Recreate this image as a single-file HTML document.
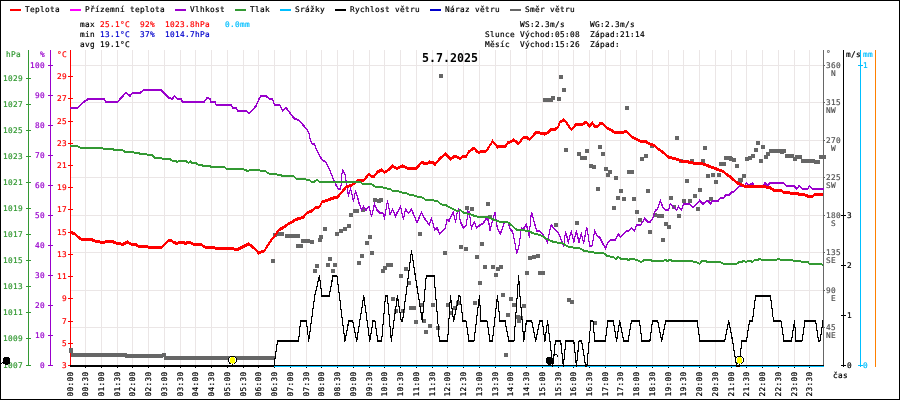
<!DOCTYPE html>
<html><head><meta charset="utf-8"><title>5.7.2025</title>
<style>
html,body{margin:0;padding:0;background:#fff;width:900px;height:400px;overflow:hidden}
svg{display:block}
text{font-family:'DejaVu Sans Mono','Liberation Mono',monospace;font-size:7.75px;letter-spacing:0.334px;stroke-width:0.2px}
</style></head><body>
<svg width="900" height="400" viewBox="0 0 900 400">
<rect x="0" y="0" width="900" height="400" fill="#fff"/>
<rect x="0" y="0" width="900" height="1" fill="#000"/>
<rect x="0" y="399" width="900" height="1" fill="#000"/>
<rect x="0" y="0" width="1" height="400" fill="#000"/>
<rect x="899" y="0" width="1" height="400" fill="#000"/>
<g shape-rendering="crispEdges">
<rect x="85" y="50" width="1" height="315" fill="#ebe6e6"/>
<rect x="101" y="50" width="1" height="315" fill="#ebe6e6"/>
<rect x="117" y="50" width="1" height="315" fill="#ebe6e6"/>
<rect x="132" y="50" width="1" height="315" fill="#ebe6e6"/>
<rect x="148" y="50" width="1" height="315" fill="#ebe6e6"/>
<rect x="164" y="50" width="1" height="315" fill="#ebe6e6"/>
<rect x="180" y="50" width="1" height="315" fill="#ebe6e6"/>
<rect x="195" y="50" width="1" height="315" fill="#ebe6e6"/>
<rect x="211" y="50" width="1" height="315" fill="#ebe6e6"/>
<rect x="227" y="50" width="1" height="315" fill="#ebe6e6"/>
<rect x="243" y="50" width="1" height="315" fill="#ebe6e6"/>
<rect x="258" y="50" width="1" height="315" fill="#ebe6e6"/>
<rect x="274" y="50" width="1" height="315" fill="#ebe6e6"/>
<rect x="290" y="50" width="1" height="315" fill="#ebe6e6"/>
<rect x="306" y="50" width="1" height="315" fill="#ebe6e6"/>
<rect x="321" y="50" width="1" height="315" fill="#ebe6e6"/>
<rect x="337" y="50" width="1" height="315" fill="#ebe6e6"/>
<rect x="353" y="50" width="1" height="315" fill="#ebe6e6"/>
<rect x="369" y="50" width="1" height="315" fill="#ebe6e6"/>
<rect x="384" y="50" width="1" height="315" fill="#ebe6e6"/>
<rect x="400" y="50" width="1" height="315" fill="#ebe6e6"/>
<rect x="416" y="50" width="1" height="315" fill="#ebe6e6"/>
<rect x="432" y="50" width="1" height="315" fill="#ebe6e6"/>
<rect x="447" y="50" width="1" height="315" fill="#ebe6e6"/>
<rect x="463" y="50" width="1" height="315" fill="#ebe6e6"/>
<rect x="479" y="50" width="1" height="315" fill="#ebe6e6"/>
<rect x="495" y="50" width="1" height="315" fill="#ebe6e6"/>
<rect x="510" y="50" width="1" height="315" fill="#ebe6e6"/>
<rect x="526" y="50" width="1" height="315" fill="#ebe6e6"/>
<rect x="542" y="50" width="1" height="315" fill="#ebe6e6"/>
<rect x="558" y="50" width="1" height="315" fill="#ebe6e6"/>
<rect x="573" y="50" width="1" height="315" fill="#ebe6e6"/>
<rect x="589" y="50" width="1" height="315" fill="#ebe6e6"/>
<rect x="605" y="50" width="1" height="315" fill="#ebe6e6"/>
<rect x="620" y="50" width="1" height="315" fill="#ebe6e6"/>
<rect x="636" y="50" width="1" height="315" fill="#ebe6e6"/>
<rect x="652" y="50" width="1" height="315" fill="#ebe6e6"/>
<rect x="668" y="50" width="1" height="315" fill="#ebe6e6"/>
<rect x="683" y="50" width="1" height="315" fill="#ebe6e6"/>
<rect x="699" y="50" width="1" height="315" fill="#ebe6e6"/>
<rect x="715" y="50" width="1" height="315" fill="#ebe6e6"/>
<rect x="731" y="50" width="1" height="315" fill="#ebe6e6"/>
<rect x="746" y="50" width="1" height="315" fill="#ebe6e6"/>
<rect x="762" y="50" width="1" height="315" fill="#ebe6e6"/>
<rect x="778" y="50" width="1" height="315" fill="#ebe6e6"/>
<rect x="794" y="50" width="1" height="315" fill="#ebe6e6"/>
<rect x="809" y="50" width="1" height="315" fill="#ebe6e6"/>
<rect x="71" y="65" width="752" height="1" fill="#ebe6e6"/>
<rect x="71" y="102" width="752" height="1" fill="#ebe6e6"/>
<rect x="71" y="140" width="752" height="1" fill="#ebe6e6"/>
<rect x="71" y="177" width="752" height="1" fill="#ebe6e6"/>
<rect x="71" y="215" width="752" height="1" fill="#ebe6e6"/>
<rect x="71" y="252" width="752" height="1" fill="#ebe6e6"/>
<rect x="71" y="290" width="752" height="1" fill="#ebe6e6"/>
<rect x="71" y="327" width="752" height="1" fill="#ebe6e6"/>
<rect x="71" y="365" width="752" height="1" fill="#ebe6e6"/>
</g>
<text x="422" y="62" fill="#000" font-weight="bold" style="font-size:11.63px;letter-spacing:0;stroke-width:0">5.7.2025</text>
<g shape-rendering="crispEdges">
<rect x="28" y="50" width="1" height="316" fill="#339933"/>
<rect x="50" y="50" width="1" height="316" fill="#9900cc"/>
<rect x="70" y="50" width="1" height="316" fill="#ff0000"/>
<rect x="823" y="50" width="1" height="316" fill="#666666"/>
<rect x="843" y="50" width="1" height="317" fill="#000"/>
<rect x="860" y="50" width="1" height="317" fill="#00bfff"/>
<rect x="875" y="50" width="1" height="317" fill="#ff8000"/>
</g>
<g shape-rendering="crispEdges">
<rect x="26" y="365" width="5" height="1" fill="#339933"/>
<rect x="26" y="338" width="5" height="1" fill="#339933"/>
<rect x="26" y="312" width="5" height="1" fill="#339933"/>
<rect x="26" y="286" width="5" height="1" fill="#339933"/>
<rect x="26" y="260" width="5" height="1" fill="#339933"/>
<rect x="26" y="234" width="5" height="1" fill="#339933"/>
<rect x="26" y="208" width="5" height="1" fill="#339933"/>
<rect x="26" y="182" width="5" height="1" fill="#339933"/>
<rect x="26" y="156" width="5" height="1" fill="#339933"/>
<rect x="26" y="130" width="5" height="1" fill="#339933"/>
<rect x="26" y="104" width="5" height="1" fill="#339933"/>
<rect x="26" y="78" width="5" height="1" fill="#339933"/>
<rect x="48" y="365" width="5" height="1" fill="#9900cc"/>
<rect x="48" y="335" width="5" height="1" fill="#9900cc"/>
<rect x="48" y="305" width="5" height="1" fill="#9900cc"/>
<rect x="48" y="275" width="5" height="1" fill="#9900cc"/>
<rect x="48" y="245" width="5" height="1" fill="#9900cc"/>
<rect x="48" y="215" width="5" height="1" fill="#9900cc"/>
<rect x="48" y="185" width="5" height="1" fill="#9900cc"/>
<rect x="48" y="155" width="5" height="1" fill="#9900cc"/>
<rect x="48" y="125" width="5" height="1" fill="#9900cc"/>
<rect x="48" y="95" width="5" height="1" fill="#9900cc"/>
<rect x="48" y="65" width="5" height="1" fill="#9900cc"/>
<rect x="68" y="365" width="5" height="1" fill="#ff0000"/>
<rect x="68" y="343" width="5" height="1" fill="#ff0000"/>
<rect x="68" y="321" width="5" height="1" fill="#ff0000"/>
<rect x="68" y="298" width="5" height="1" fill="#ff0000"/>
<rect x="68" y="276" width="5" height="1" fill="#ff0000"/>
<rect x="68" y="254" width="5" height="1" fill="#ff0000"/>
<rect x="68" y="232" width="5" height="1" fill="#ff0000"/>
<rect x="68" y="209" width="5" height="1" fill="#ff0000"/>
<rect x="68" y="187" width="5" height="1" fill="#ff0000"/>
<rect x="68" y="165" width="5" height="1" fill="#ff0000"/>
<rect x="68" y="143" width="5" height="1" fill="#ff0000"/>
<rect x="68" y="121" width="5" height="1" fill="#ff0000"/>
<rect x="68" y="98" width="5" height="1" fill="#ff0000"/>
<rect x="68" y="76" width="5" height="1" fill="#ff0000"/>
<rect x="841" y="365" width="5" height="1" fill="#000"/>
<rect x="841" y="315" width="5" height="1" fill="#000"/>
<rect x="841" y="265" width="5" height="1" fill="#000"/>
<rect x="841" y="215" width="5" height="1" fill="#000"/>
<rect x="858" y="365" width="5" height="1" fill="#00bfff"/>
<rect x="858" y="65" width="5" height="1" fill="#00bfff"/>
<rect x="824" y="65" width="1" height="1" fill="#666666"/>
<rect x="824" y="102" width="1" height="1" fill="#666666"/>
<rect x="824" y="140" width="1" height="1" fill="#666666"/>
<rect x="824" y="177" width="1" height="1" fill="#666666"/>
<rect x="824" y="215" width="1" height="1" fill="#666666"/>
<rect x="824" y="252" width="1" height="1" fill="#666666"/>
<rect x="824" y="290" width="1" height="1" fill="#666666"/>
<rect x="824" y="327" width="1" height="1" fill="#666666"/>
</g>
<g style="font-family:'DejaVu Sans Mono','Liberation Mono',monospace;font-size:7.75px">
<text x="23" y="368" fill="#339933" stroke="#339933" text-anchor="end">1007</text>
<text x="23" y="341" fill="#339933" stroke="#339933" text-anchor="end">1009</text>
<text x="23" y="315" fill="#339933" stroke="#339933" text-anchor="end">1011</text>
<text x="23" y="289" fill="#339933" stroke="#339933" text-anchor="end">1013</text>
<text x="23" y="263" fill="#339933" stroke="#339933" text-anchor="end">1015</text>
<text x="23" y="237" fill="#339933" stroke="#339933" text-anchor="end">1017</text>
<text x="23" y="211" fill="#339933" stroke="#339933" text-anchor="end">1019</text>
<text x="23" y="185" fill="#339933" stroke="#339933" text-anchor="end">1021</text>
<text x="23" y="159" fill="#339933" stroke="#339933" text-anchor="end">1023</text>
<text x="23" y="133" fill="#339933" stroke="#339933" text-anchor="end">1025</text>
<text x="23" y="107" fill="#339933" stroke="#339933" text-anchor="end">1027</text>
<text x="23" y="81" fill="#339933" stroke="#339933" text-anchor="end">1029</text>
<text x="45" y="368" fill="#9900cc" stroke="#9900cc" text-anchor="end">0</text>
<text x="45" y="338" fill="#9900cc" stroke="#9900cc" text-anchor="end">10</text>
<text x="45" y="308" fill="#9900cc" stroke="#9900cc" text-anchor="end">20</text>
<text x="45" y="278" fill="#9900cc" stroke="#9900cc" text-anchor="end">30</text>
<text x="45" y="248" fill="#9900cc" stroke="#9900cc" text-anchor="end">40</text>
<text x="45" y="218" fill="#9900cc" stroke="#9900cc" text-anchor="end">50</text>
<text x="45" y="188" fill="#9900cc" stroke="#9900cc" text-anchor="end">60</text>
<text x="45" y="158" fill="#9900cc" stroke="#9900cc" text-anchor="end">70</text>
<text x="45" y="128" fill="#9900cc" stroke="#9900cc" text-anchor="end">80</text>
<text x="45" y="98" fill="#9900cc" stroke="#9900cc" text-anchor="end">90</text>
<text x="45" y="68" fill="#9900cc" stroke="#9900cc" text-anchor="end">100</text>
<text x="67" y="368" fill="#ff0000" stroke="#ff0000" text-anchor="end">3</text>
<text x="67" y="346" fill="#ff0000" stroke="#ff0000" text-anchor="end">5</text>
<text x="67" y="324" fill="#ff0000" stroke="#ff0000" text-anchor="end">7</text>
<text x="67" y="301" fill="#ff0000" stroke="#ff0000" text-anchor="end">9</text>
<text x="67" y="279" fill="#ff0000" stroke="#ff0000" text-anchor="end">11</text>
<text x="67" y="257" fill="#ff0000" stroke="#ff0000" text-anchor="end">13</text>
<text x="67" y="235" fill="#ff0000" stroke="#ff0000" text-anchor="end">15</text>
<text x="67" y="212" fill="#ff0000" stroke="#ff0000" text-anchor="end">17</text>
<text x="67" y="190" fill="#ff0000" stroke="#ff0000" text-anchor="end">19</text>
<text x="67" y="168" fill="#ff0000" stroke="#ff0000" text-anchor="end">21</text>
<text x="67" y="146" fill="#ff0000" stroke="#ff0000" text-anchor="end">23</text>
<text x="67" y="124" fill="#ff0000" stroke="#ff0000" text-anchor="end">25</text>
<text x="67" y="101" fill="#ff0000" stroke="#ff0000" text-anchor="end">27</text>
<text x="67" y="79" fill="#ff0000" stroke="#ff0000" text-anchor="end">29</text>
<text x="21" y="57" fill="#339933" stroke="#339933" text-anchor="end">hPa</text>
<text x="45" y="57" fill="#9900cc" stroke="#9900cc" text-anchor="end">%</text>
<text x="67" y="57" fill="#ff0000" stroke="#ff0000" text-anchor="end">°C</text>
<text x="826" y="68" fill="#555" stroke="#555">360</text>
<text x="836" y="76" fill="#555" stroke="#555" text-anchor="end">N</text>
<text x="826" y="105" fill="#555" stroke="#555">315</text>
<text x="836" y="113" fill="#555" stroke="#555" text-anchor="end">NW</text>
<text x="826" y="143" fill="#555" stroke="#555">270</text>
<text x="836" y="151" fill="#555" stroke="#555" text-anchor="end">W</text>
<text x="826" y="180" fill="#555" stroke="#555">225</text>
<text x="836" y="188" fill="#555" stroke="#555" text-anchor="end">SW</text>
<text x="826" y="218" fill="#555" stroke="#555">180</text>
<text x="836" y="226" fill="#555" stroke="#555" text-anchor="end">S</text>
<text x="826" y="255" fill="#555" stroke="#555">135</text>
<text x="836" y="263" fill="#555" stroke="#555" text-anchor="end">SE</text>
<text x="826" y="293" fill="#555" stroke="#555">90</text>
<text x="836" y="301" fill="#555" stroke="#555" text-anchor="end">E</text>
<text x="826" y="330" fill="#555" stroke="#555">45</text>
<text x="836" y="338" fill="#555" stroke="#555" text-anchor="end">NE</text>
<text x="826" y="56" fill="#555" stroke="#555">°</text>
<text x="847" y="368" fill="#000" stroke="#000">0</text>
<text x="847" y="318" fill="#000" stroke="#000">1</text>
<text x="847" y="268" fill="#000" stroke="#000">2</text>
<text x="847" y="218" fill="#000" stroke="#000">3</text>
<text x="863" y="368" fill="#00bfff" stroke="#00bfff">0</text>
<text x="863" y="68" fill="#00bfff" stroke="#00bfff">1</text>
<text x="846" y="57" fill="#000" stroke="#000">m/s</text>
<text x="863" y="57" fill="#00bfff" stroke="#00bfff">mm</text>
<text x="833" y="378" fill="#000" stroke="#000">čas</text>
<rect x="10" y="9" width="11" height="2" fill="#ff0000"/>
<text x="25" y="12" fill="#000" stroke="#000">Teplota</text>
<rect x="70" y="9" width="11" height="2" fill="#ff00ff"/>
<text x="85" y="12" fill="#000" stroke="#000">Přízemní teplota</text>
<rect x="175" y="9" width="11" height="2" fill="#9900cc"/>
<text x="190" y="12" fill="#000" stroke="#000">Vlhkost</text>
<rect x="235" y="9" width="11" height="2" fill="#339933"/>
<text x="250" y="12" fill="#000" stroke="#000">Tlak</text>
<rect x="280" y="9" width="11" height="2" fill="#00bfff"/>
<text x="295" y="12" fill="#000" stroke="#000">Srážky</text>
<rect x="335" y="9" width="11" height="2" fill="#000"/>
<text x="350" y="12" fill="#000" stroke="#000">Rychlost větru</text>
<rect x="430" y="9" width="11" height="2" fill="#0000cc"/>
<text x="445" y="12" fill="#000" stroke="#000">Náraz větru</text>
<rect x="510" y="9" width="11" height="2" fill="#666"/>
<text x="525" y="12" fill="#000" stroke="#000">Směr větru</text>
<text x="80" y="27" xml:space="preserve"><tspan fill="#000" stroke="#000">max </tspan><tspan fill="#ff0000" stroke="#ff0000">25.1°C  92%  1023.8hPa   </tspan><tspan fill="#00bfff" stroke="#00bfff">0.0mm</tspan></text>
<text x="80" y="37" xml:space="preserve"><tspan fill="#000" stroke="#000">min </tspan><tspan fill="#0000cc" stroke="#0000cc">13.1°C  37%  1014.7hPa</tspan></text>
<text x="80" y="47" stroke="#000" xml:space="preserve">avg 19.1°C</text>
<text x="520" y="27" stroke="#000" xml:space="preserve">WS:2.3m/s     WG:2.3m/s</text>
<text x="485" y="37" stroke="#000" xml:space="preserve">Slunce Východ:05:08  Západ:21:14</text>
<text x="485" y="47" stroke="#000" xml:space="preserve">Měsíc  Východ:15:26  Západ:</text>
<text stroke="#000" transform="translate(73,396.5) rotate(-90)">00:00</text>
<text stroke="#000" transform="translate(88,396.5) rotate(-90)">00:30</text>
<text stroke="#000" transform="translate(104,396.5) rotate(-90)">01:00</text>
<text stroke="#000" transform="translate(120,396.5) rotate(-90)">01:30</text>
<text stroke="#000" transform="translate(135,396.5) rotate(-90)">02:00</text>
<text stroke="#000" transform="translate(151,396.5) rotate(-90)">02:30</text>
<text stroke="#000" transform="translate(167,396.5) rotate(-90)">03:00</text>
<text stroke="#000" transform="translate(183,396.5) rotate(-90)">03:30</text>
<text stroke="#000" transform="translate(198,396.5) rotate(-90)">04:00</text>
<text stroke="#000" transform="translate(214,396.5) rotate(-90)">04:30</text>
<text stroke="#000" transform="translate(230,396.5) rotate(-90)">05:00</text>
<text stroke="#000" transform="translate(246,396.5) rotate(-90)">05:30</text>
<text stroke="#000" transform="translate(261,396.5) rotate(-90)">06:00</text>
<text stroke="#000" transform="translate(277,396.5) rotate(-90)">06:30</text>
<text stroke="#000" transform="translate(293,396.5) rotate(-90)">07:00</text>
<text stroke="#000" transform="translate(309,396.5) rotate(-90)">07:30</text>
<text stroke="#000" transform="translate(324,396.5) rotate(-90)">08:00</text>
<text stroke="#000" transform="translate(340,396.5) rotate(-90)">08:30</text>
<text stroke="#000" transform="translate(356,396.5) rotate(-90)">09:00</text>
<text stroke="#000" transform="translate(372,396.5) rotate(-90)">09:30</text>
<text stroke="#000" transform="translate(387,396.5) rotate(-90)">10:00</text>
<text stroke="#000" transform="translate(403,396.5) rotate(-90)">10:30</text>
<text stroke="#000" transform="translate(419,396.5) rotate(-90)">11:00</text>
<text stroke="#000" transform="translate(435,396.5) rotate(-90)">11:30</text>
<text stroke="#000" transform="translate(450,396.5) rotate(-90)">12:00</text>
<text stroke="#000" transform="translate(466,396.5) rotate(-90)">12:30</text>
<text stroke="#000" transform="translate(482,396.5) rotate(-90)">13:00</text>
<text stroke="#000" transform="translate(498,396.5) rotate(-90)">13:30</text>
<text stroke="#000" transform="translate(513,396.5) rotate(-90)">14:00</text>
<text stroke="#000" transform="translate(529,396.5) rotate(-90)">14:30</text>
<text stroke="#000" transform="translate(545,396.5) rotate(-90)">15:00</text>
<text stroke="#000" transform="translate(561,396.5) rotate(-90)">15:30</text>
<text stroke="#000" transform="translate(576,396.5) rotate(-90)">16:00</text>
<text stroke="#000" transform="translate(592,396.5) rotate(-90)">16:30</text>
<text stroke="#000" transform="translate(608,396.5) rotate(-90)">17:00</text>
<text stroke="#000" transform="translate(623,396.5) rotate(-90)">17:30</text>
<text stroke="#000" transform="translate(639,396.5) rotate(-90)">18:00</text>
<text stroke="#000" transform="translate(655,396.5) rotate(-90)">18:30</text>
<text stroke="#000" transform="translate(671,396.5) rotate(-90)">19:00</text>
<text stroke="#000" transform="translate(686,396.5) rotate(-90)">19:30</text>
<text stroke="#000" transform="translate(702,396.5) rotate(-90)">20:00</text>
<text stroke="#000" transform="translate(718,396.5) rotate(-90)">20:30</text>
<text stroke="#000" transform="translate(734,396.5) rotate(-90)">21:00</text>
<text stroke="#000" transform="translate(749,396.5) rotate(-90)">21:30</text>
<text stroke="#000" transform="translate(765,396.5) rotate(-90)">22:00</text>
<text stroke="#000" transform="translate(781,396.5) rotate(-90)">22:30</text>
<text stroke="#000" transform="translate(797,396.5) rotate(-90)">23:00</text>
<text stroke="#000" transform="translate(812,396.5) rotate(-90)">23:30</text>
</g>
<g shape-rendering="crispEdges">
<rect x="85" y="367" width="1" height="1" fill="#000"/>
<rect x="101" y="367" width="1" height="1" fill="#000"/>
<rect x="117" y="367" width="1" height="1" fill="#000"/>
<rect x="132" y="367" width="1" height="1" fill="#000"/>
<rect x="148" y="367" width="1" height="1" fill="#000"/>
<rect x="164" y="367" width="1" height="1" fill="#000"/>
<rect x="180" y="367" width="1" height="1" fill="#000"/>
<rect x="195" y="367" width="1" height="1" fill="#000"/>
<rect x="211" y="367" width="1" height="1" fill="#000"/>
<rect x="227" y="367" width="1" height="1" fill="#000"/>
<rect x="243" y="367" width="1" height="1" fill="#000"/>
<rect x="258" y="367" width="1" height="1" fill="#000"/>
<rect x="274" y="367" width="1" height="1" fill="#000"/>
<rect x="290" y="367" width="1" height="1" fill="#000"/>
<rect x="306" y="367" width="1" height="1" fill="#000"/>
<rect x="321" y="367" width="1" height="1" fill="#000"/>
<rect x="337" y="367" width="1" height="1" fill="#000"/>
<rect x="353" y="367" width="1" height="1" fill="#000"/>
<rect x="369" y="367" width="1" height="1" fill="#000"/>
<rect x="384" y="367" width="1" height="1" fill="#000"/>
<rect x="400" y="367" width="1" height="1" fill="#000"/>
<rect x="416" y="367" width="1" height="1" fill="#000"/>
<rect x="432" y="367" width="1" height="1" fill="#000"/>
<rect x="447" y="367" width="1" height="1" fill="#000"/>
<rect x="463" y="367" width="1" height="1" fill="#000"/>
<rect x="479" y="367" width="1" height="1" fill="#000"/>
<rect x="495" y="367" width="1" height="1" fill="#000"/>
<rect x="510" y="367" width="1" height="1" fill="#000"/>
<rect x="526" y="367" width="1" height="1" fill="#000"/>
<rect x="542" y="367" width="1" height="1" fill="#000"/>
<rect x="558" y="367" width="1" height="1" fill="#000"/>
<rect x="573" y="367" width="1" height="1" fill="#000"/>
<rect x="589" y="367" width="1" height="1" fill="#000"/>
<rect x="605" y="367" width="1" height="1" fill="#000"/>
<rect x="620" y="367" width="1" height="1" fill="#000"/>
<rect x="636" y="367" width="1" height="1" fill="#000"/>
<rect x="652" y="367" width="1" height="1" fill="#000"/>
<rect x="668" y="367" width="1" height="1" fill="#000"/>
<rect x="683" y="367" width="1" height="1" fill="#000"/>
<rect x="699" y="367" width="1" height="1" fill="#000"/>
<rect x="715" y="367" width="1" height="1" fill="#000"/>
<rect x="731" y="367" width="1" height="1" fill="#000"/>
<rect x="746" y="367" width="1" height="1" fill="#000"/>
<rect x="762" y="367" width="1" height="1" fill="#000"/>
<rect x="778" y="367" width="1" height="1" fill="#000"/>
<rect x="794" y="367" width="1" height="1" fill="#000"/>
<rect x="809" y="367" width="1" height="1" fill="#000"/>
<rect x="70" y="365" width="754" height="1" fill="#000"/>
<rect x="70" y="366" width="754" height="1" fill="#00bfff"/>
</g>
<g shape-rendering="crispEdges">
<rect x="69" y="348" width="4" height="4" fill="#666666"/>
<rect x="69" y="349" width="4" height="4" fill="#666666"/>
<rect x="71" y="353" width="4" height="4" fill="#666666"/>
<rect x="73" y="353" width="4" height="4" fill="#666666"/>
<rect x="76" y="353" width="4" height="4" fill="#666666"/>
<rect x="79" y="353" width="4" height="4" fill="#666666"/>
<rect x="81" y="353" width="4" height="4" fill="#666666"/>
<rect x="84" y="353" width="4" height="4" fill="#666666"/>
<rect x="86" y="353" width="4" height="4" fill="#666666"/>
<rect x="89" y="353" width="4" height="4" fill="#666666"/>
<rect x="92" y="353" width="4" height="4" fill="#666666"/>
<rect x="94" y="353" width="4" height="4" fill="#666666"/>
<rect x="97" y="353" width="4" height="4" fill="#666666"/>
<rect x="99" y="353" width="4" height="4" fill="#666666"/>
<rect x="102" y="353" width="4" height="4" fill="#666666"/>
<rect x="105" y="353" width="4" height="4" fill="#666666"/>
<rect x="107" y="353" width="4" height="4" fill="#666666"/>
<rect x="110" y="353" width="4" height="4" fill="#666666"/>
<rect x="112" y="353" width="4" height="4" fill="#666666"/>
<rect x="115" y="353" width="4" height="4" fill="#666666"/>
<rect x="118" y="353" width="4" height="4" fill="#666666"/>
<rect x="120" y="353" width="4" height="4" fill="#666666"/>
<rect x="123" y="353" width="4" height="4" fill="#666666"/>
<rect x="125" y="354" width="4" height="4" fill="#666666"/>
<rect x="128" y="354" width="4" height="4" fill="#666666"/>
<rect x="131" y="354" width="4" height="4" fill="#666666"/>
<rect x="133" y="354" width="4" height="4" fill="#666666"/>
<rect x="136" y="354" width="4" height="4" fill="#666666"/>
<rect x="138" y="354" width="4" height="4" fill="#666666"/>
<rect x="141" y="354" width="4" height="4" fill="#666666"/>
<rect x="144" y="354" width="4" height="4" fill="#666666"/>
<rect x="146" y="354" width="4" height="4" fill="#666666"/>
<rect x="149" y="354" width="4" height="4" fill="#666666"/>
<rect x="151" y="354" width="4" height="4" fill="#666666"/>
<rect x="154" y="354" width="4" height="4" fill="#666666"/>
<rect x="157" y="354" width="4" height="4" fill="#666666"/>
<rect x="159" y="354" width="4" height="4" fill="#666666"/>
<rect x="162" y="353" width="4" height="4" fill="#666666"/>
<rect x="164" y="356" width="4" height="4" fill="#666666"/>
<rect x="167" y="356" width="4" height="4" fill="#666666"/>
<rect x="170" y="356" width="4" height="4" fill="#666666"/>
<rect x="172" y="356" width="4" height="4" fill="#666666"/>
<rect x="175" y="356" width="4" height="4" fill="#666666"/>
<rect x="177" y="356" width="4" height="4" fill="#666666"/>
<rect x="180" y="356" width="4" height="4" fill="#666666"/>
<rect x="183" y="356" width="4" height="4" fill="#666666"/>
<rect x="185" y="356" width="4" height="4" fill="#666666"/>
<rect x="188" y="356" width="4" height="4" fill="#666666"/>
<rect x="190" y="356" width="4" height="4" fill="#666666"/>
<rect x="193" y="356" width="4" height="4" fill="#666666"/>
<rect x="196" y="356" width="4" height="4" fill="#666666"/>
<rect x="198" y="356" width="4" height="4" fill="#666666"/>
<rect x="201" y="356" width="4" height="4" fill="#666666"/>
<rect x="203" y="356" width="4" height="4" fill="#666666"/>
<rect x="206" y="356" width="4" height="4" fill="#666666"/>
<rect x="209" y="356" width="4" height="4" fill="#666666"/>
<rect x="211" y="356" width="4" height="4" fill="#666666"/>
<rect x="214" y="356" width="4" height="4" fill="#666666"/>
<rect x="216" y="356" width="4" height="4" fill="#666666"/>
<rect x="219" y="356" width="4" height="4" fill="#666666"/>
<rect x="222" y="356" width="4" height="4" fill="#666666"/>
<rect x="224" y="356" width="4" height="4" fill="#666666"/>
<rect x="227" y="356" width="4" height="4" fill="#666666"/>
<rect x="229" y="356" width="4" height="4" fill="#666666"/>
<rect x="232" y="356" width="4" height="4" fill="#666666"/>
<rect x="235" y="356" width="4" height="4" fill="#666666"/>
<rect x="237" y="356" width="4" height="4" fill="#666666"/>
<rect x="240" y="356" width="4" height="4" fill="#666666"/>
<rect x="242" y="356" width="4" height="4" fill="#666666"/>
<rect x="245" y="356" width="4" height="4" fill="#666666"/>
<rect x="248" y="356" width="4" height="4" fill="#666666"/>
<rect x="250" y="356" width="4" height="4" fill="#666666"/>
<rect x="253" y="356" width="4" height="4" fill="#666666"/>
<rect x="255" y="356" width="4" height="4" fill="#666666"/>
<rect x="258" y="356" width="4" height="4" fill="#666666"/>
<rect x="261" y="356" width="4" height="4" fill="#666666"/>
<rect x="263" y="356" width="4" height="4" fill="#666666"/>
<rect x="266" y="356" width="4" height="4" fill="#666666"/>
<rect x="268" y="356" width="4" height="4" fill="#666666"/>
<rect x="271" y="356" width="4" height="4" fill="#666666"/>
<rect x="273" y="233" width="4" height="4" fill="#666666"/>
<rect x="277" y="232" width="4" height="4" fill="#666666"/>
<rect x="280" y="232" width="4" height="4" fill="#666666"/>
<rect x="285" y="234" width="4" height="4" fill="#666666"/>
<rect x="289" y="234" width="4" height="4" fill="#666666"/>
<rect x="293" y="234" width="4" height="4" fill="#666666"/>
<rect x="296" y="234" width="4" height="4" fill="#666666"/>
<rect x="271" y="259" width="4" height="4" fill="#666666"/>
<rect x="296" y="244" width="4" height="4" fill="#666666"/>
<rect x="301" y="239" width="4" height="4" fill="#666666"/>
<rect x="306" y="239" width="4" height="4" fill="#666666"/>
<rect x="310" y="240" width="4" height="4" fill="#666666"/>
<rect x="318" y="238" width="4" height="4" fill="#666666"/>
<rect x="319" y="235" width="4" height="4" fill="#666666"/>
<rect x="323" y="227" width="4" height="4" fill="#666666"/>
<rect x="328" y="257" width="4" height="4" fill="#666666"/>
<rect x="335" y="232" width="4" height="4" fill="#666666"/>
<rect x="339" y="229" width="4" height="4" fill="#666666"/>
<rect x="343" y="227" width="4" height="4" fill="#666666"/>
<rect x="347" y="224" width="4" height="4" fill="#666666"/>
<rect x="349" y="213" width="4" height="4" fill="#666666"/>
<rect x="353" y="209" width="4" height="4" fill="#666666"/>
<rect x="355" y="209" width="4" height="4" fill="#666666"/>
<rect x="357" y="261" width="4" height="4" fill="#666666"/>
<rect x="360" y="254" width="4" height="4" fill="#666666"/>
<rect x="365" y="241" width="4" height="4" fill="#666666"/>
<rect x="368" y="235" width="4" height="4" fill="#666666"/>
<rect x="361" y="208" width="4" height="4" fill="#666666"/>
<rect x="370" y="251" width="4" height="4" fill="#666666"/>
<rect x="373" y="198" width="4" height="4" fill="#666666"/>
<rect x="377" y="199" width="4" height="4" fill="#666666"/>
<rect x="379" y="198" width="4" height="4" fill="#666666"/>
<rect x="388" y="263" width="4" height="4" fill="#666666"/>
<rect x="418" y="232" width="4" height="4" fill="#666666"/>
<rect x="443" y="251" width="4" height="4" fill="#666666"/>
<rect x="459" y="245" width="4" height="4" fill="#666666"/>
<rect x="464" y="247" width="4" height="4" fill="#666666"/>
<rect x="465" y="206" width="4" height="4" fill="#666666"/>
<rect x="470" y="207" width="4" height="4" fill="#666666"/>
<rect x="475" y="255" width="4" height="4" fill="#666666"/>
<rect x="480" y="242" width="4" height="4" fill="#666666"/>
<rect x="486" y="202" width="4" height="4" fill="#666666"/>
<rect x="488" y="215" width="4" height="4" fill="#666666"/>
<rect x="439" y="74" width="4" height="4" fill="#666666"/>
<rect x="313" y="269" width="4" height="4" fill="#666666"/>
<rect x="315" y="264" width="4" height="4" fill="#666666"/>
<rect x="326" y="263" width="4" height="4" fill="#666666"/>
<rect x="331" y="269" width="4" height="4" fill="#666666"/>
<rect x="333" y="263" width="4" height="4" fill="#666666"/>
<rect x="381" y="269" width="4" height="4" fill="#666666"/>
<rect x="383" y="266" width="4" height="4" fill="#666666"/>
<rect x="386" y="263" width="4" height="4" fill="#666666"/>
<rect x="389" y="263" width="4" height="4" fill="#666666"/>
<rect x="399" y="274" width="4" height="4" fill="#666666"/>
<rect x="404" y="267" width="4" height="4" fill="#666666"/>
<rect x="407" y="281" width="4" height="4" fill="#666666"/>
<rect x="391" y="297" width="4" height="4" fill="#666666"/>
<rect x="394" y="309" width="4" height="4" fill="#666666"/>
<rect x="401" y="309" width="4" height="4" fill="#666666"/>
<rect x="409" y="306" width="4" height="4" fill="#666666"/>
<rect x="412" y="306" width="4" height="4" fill="#666666"/>
<rect x="419" y="303" width="4" height="4" fill="#666666"/>
<rect x="414" y="320" width="4" height="4" fill="#666666"/>
<rect x="422" y="319" width="4" height="4" fill="#666666"/>
<rect x="424" y="330" width="4" height="4" fill="#666666"/>
<rect x="428" y="324" width="4" height="4" fill="#666666"/>
<rect x="431" y="303" width="4" height="4" fill="#666666"/>
<rect x="436" y="326" width="4" height="4" fill="#666666"/>
<rect x="446" y="303" width="4" height="4" fill="#666666"/>
<rect x="449" y="311" width="4" height="4" fill="#666666"/>
<rect x="453" y="306" width="4" height="4" fill="#666666"/>
<rect x="456" y="301" width="4" height="4" fill="#666666"/>
<rect x="473" y="301" width="4" height="4" fill="#666666"/>
<rect x="478" y="281" width="4" height="4" fill="#666666"/>
<rect x="483" y="265" width="4" height="4" fill="#666666"/>
<rect x="491" y="265" width="4" height="4" fill="#666666"/>
<rect x="496" y="267" width="4" height="4" fill="#666666"/>
<rect x="499" y="265" width="4" height="4" fill="#666666"/>
<rect x="494" y="273" width="4" height="4" fill="#666666"/>
<rect x="501" y="293" width="4" height="4" fill="#666666"/>
<rect x="509" y="297" width="4" height="4" fill="#666666"/>
<rect x="512" y="303" width="4" height="4" fill="#666666"/>
<rect x="506" y="313" width="4" height="4" fill="#666666"/>
<rect x="516" y="315" width="4" height="4" fill="#666666"/>
<rect x="517" y="319" width="4" height="4" fill="#666666"/>
<rect x="504" y="353" width="4" height="4" fill="#666666"/>
<rect x="559" y="75" width="4" height="4" fill="#666666"/>
<rect x="562" y="88" width="4" height="4" fill="#666666"/>
<rect x="543" y="98" width="4" height="4" fill="#666666"/>
<rect x="546" y="98" width="4" height="4" fill="#666666"/>
<rect x="549" y="98" width="4" height="4" fill="#666666"/>
<rect x="551" y="96" width="4" height="4" fill="#666666"/>
<rect x="557" y="97" width="4" height="4" fill="#666666"/>
<rect x="625" y="106" width="4" height="4" fill="#666666"/>
<rect x="675" y="136" width="4" height="4" fill="#666666"/>
<rect x="564" y="148" width="4" height="4" fill="#666666"/>
<rect x="577" y="152" width="4" height="4" fill="#666666"/>
<rect x="585" y="149" width="4" height="4" fill="#666666"/>
<rect x="580" y="156" width="4" height="4" fill="#666666"/>
<rect x="583" y="156" width="4" height="4" fill="#666666"/>
<rect x="598" y="145" width="4" height="4" fill="#666666"/>
<rect x="601" y="152" width="4" height="4" fill="#666666"/>
<rect x="589" y="164" width="4" height="4" fill="#666666"/>
<rect x="592" y="165" width="4" height="4" fill="#666666"/>
<rect x="644" y="154" width="4" height="4" fill="#666666"/>
<rect x="640" y="157" width="4" height="4" fill="#666666"/>
<rect x="650" y="144" width="4" height="4" fill="#666666"/>
<rect x="703" y="146" width="4" height="4" fill="#666666"/>
<rect x="679" y="159" width="4" height="4" fill="#666666"/>
<rect x="690" y="159" width="4" height="4" fill="#666666"/>
<rect x="701" y="159" width="4" height="4" fill="#666666"/>
<rect x="724" y="156" width="4" height="4" fill="#666666"/>
<rect x="728" y="156" width="4" height="4" fill="#666666"/>
<rect x="732" y="158" width="4" height="4" fill="#666666"/>
<rect x="604" y="167" width="4" height="4" fill="#666666"/>
<rect x="608" y="170" width="4" height="4" fill="#666666"/>
<rect x="606" y="173" width="4" height="4" fill="#666666"/>
<rect x="614" y="176" width="4" height="4" fill="#666666"/>
<rect x="627" y="170" width="4" height="4" fill="#666666"/>
<rect x="630" y="170" width="4" height="4" fill="#666666"/>
<rect x="596" y="187" width="4" height="4" fill="#666666"/>
<rect x="619" y="189" width="4" height="4" fill="#666666"/>
<rect x="616" y="196" width="4" height="4" fill="#666666"/>
<rect x="622" y="197" width="4" height="4" fill="#666666"/>
<rect x="632" y="197" width="4" height="4" fill="#666666"/>
<rect x="612" y="206" width="4" height="4" fill="#666666"/>
<rect x="635" y="210" width="4" height="4" fill="#666666"/>
<rect x="646" y="189" width="4" height="4" fill="#666666"/>
<rect x="669" y="196" width="4" height="4" fill="#666666"/>
<rect x="672" y="205" width="4" height="4" fill="#666666"/>
<rect x="682" y="199" width="4" height="4" fill="#666666"/>
<rect x="688" y="199" width="4" height="4" fill="#666666"/>
<rect x="693" y="194" width="4" height="4" fill="#666666"/>
<rect x="698" y="188" width="4" height="4" fill="#666666"/>
<rect x="696" y="207" width="4" height="4" fill="#666666"/>
<rect x="685" y="179" width="4" height="4" fill="#666666"/>
<rect x="706" y="174" width="4" height="4" fill="#666666"/>
<rect x="711" y="173" width="4" height="4" fill="#666666"/>
<rect x="717" y="173" width="4" height="4" fill="#666666"/>
<rect x="714" y="180" width="4" height="4" fill="#666666"/>
<rect x="709" y="197" width="4" height="4" fill="#666666"/>
<rect x="735" y="164" width="4" height="4" fill="#666666"/>
<rect x="738" y="178" width="4" height="4" fill="#666666"/>
<rect x="742" y="174" width="4" height="4" fill="#666666"/>
<rect x="653" y="213" width="4" height="4" fill="#666666"/>
<rect x="657" y="214" width="4" height="4" fill="#666666"/>
<rect x="660" y="214" width="4" height="4" fill="#666666"/>
<rect x="677" y="214" width="4" height="4" fill="#666666"/>
<rect x="638" y="218" width="4" height="4" fill="#666666"/>
<rect x="664" y="222" width="4" height="4" fill="#666666"/>
<rect x="667" y="225" width="4" height="4" fill="#666666"/>
<rect x="648" y="230" width="4" height="4" fill="#666666"/>
<rect x="661" y="238" width="4" height="4" fill="#666666"/>
<rect x="554" y="223" width="4" height="4" fill="#666666"/>
<rect x="575" y="221" width="4" height="4" fill="#666666"/>
<rect x="528" y="256" width="4" height="4" fill="#666666"/>
<rect x="532" y="255" width="4" height="4" fill="#666666"/>
<rect x="536" y="254" width="4" height="4" fill="#666666"/>
<rect x="525" y="271" width="4" height="4" fill="#666666"/>
<rect x="538" y="271" width="4" height="4" fill="#666666"/>
<rect x="541" y="271" width="4" height="4" fill="#666666"/>
<rect x="522" y="304" width="4" height="4" fill="#666666"/>
<rect x="519" y="316" width="4" height="4" fill="#666666"/>
<rect x="567" y="298" width="4" height="4" fill="#666666"/>
<rect x="570" y="300" width="4" height="4" fill="#666666"/>
<rect x="593" y="321" width="4" height="4" fill="#666666"/>
<rect x="729" y="157" width="4" height="4" fill="#666666"/>
<rect x="732" y="158" width="4" height="4" fill="#666666"/>
<rect x="745" y="157" width="4" height="4" fill="#666666"/>
<rect x="748" y="156" width="4" height="4" fill="#666666"/>
<rect x="751" y="154" width="4" height="4" fill="#666666"/>
<rect x="754" y="148" width="4" height="4" fill="#666666"/>
<rect x="756" y="141" width="4" height="4" fill="#666666"/>
<rect x="761" y="145" width="4" height="4" fill="#666666"/>
<rect x="759" y="159" width="4" height="4" fill="#666666"/>
<rect x="764" y="155" width="4" height="4" fill="#666666"/>
<rect x="766" y="152" width="4" height="4" fill="#666666"/>
<rect x="739" y="178" width="4" height="4" fill="#666666"/>
<rect x="738" y="180" width="4" height="4" fill="#666666"/>
<rect x="304" y="239" width="4" height="4" fill="#666666"/>
<rect x="299" y="244" width="4" height="4" fill="#666666"/>
<rect x="719" y="162" width="4" height="4" fill="#666666"/>
<rect x="722" y="162" width="4" height="4" fill="#666666"/>
<rect x="769" y="149" width="4" height="4" fill="#666666"/>
<rect x="772" y="149" width="4" height="4" fill="#666666"/>
<rect x="775" y="149" width="4" height="4" fill="#666666"/>
<rect x="778" y="149" width="4" height="4" fill="#666666"/>
<rect x="780" y="150" width="4" height="4" fill="#666666"/>
<rect x="782" y="149" width="4" height="4" fill="#666666"/>
<rect x="785" y="154" width="4" height="4" fill="#666666"/>
<rect x="788" y="154" width="4" height="4" fill="#666666"/>
<rect x="790" y="154" width="4" height="4" fill="#666666"/>
<rect x="793" y="157" width="4" height="4" fill="#666666"/>
<rect x="795" y="155" width="4" height="4" fill="#666666"/>
<rect x="798" y="155" width="4" height="4" fill="#666666"/>
<rect x="801" y="159" width="4" height="4" fill="#666666"/>
<rect x="804" y="159" width="4" height="4" fill="#666666"/>
<rect x="807" y="159" width="4" height="4" fill="#666666"/>
<rect x="810" y="159" width="4" height="4" fill="#666666"/>
<rect x="811" y="159" width="4" height="4" fill="#666666"/>
<rect x="814" y="160" width="4" height="4" fill="#666666"/>
<rect x="816" y="160" width="4" height="4" fill="#666666"/>
<rect x="819" y="155" width="4" height="4" fill="#666666"/>
<rect x="822" y="155" width="4" height="4" fill="#666666"/>
<polyline points="70.00,107.50 77.50,107.50 83.75,101.50 88.75,98.25 103.75,98.25 106.00,101.50 117.50,101.50 126.00,92.00 130.00,95.50 132.50,92.50 140.00,92.50 143.75,89.50 161.00,89.50 169.00,97.50 172.50,98.25 174.50,95.50 177.50,98.25 181.00,98.50 182.50,101.50 204.00,101.50 207.00,97.50 210.00,98.25 211.00,101.50 215.00,101.50 216.00,104.00 231.00,104.00 232.50,107.00 236.00,107.50 237.50,110.25 246.00,110.25 249.00,113.25 256.00,105.50 259.00,98.50 261.00,95.50 266.00,95.50 270.00,98.50 272.50,98.50 274.50,104.00 280.00,104.75 282.60,110.00 286.10,107.40 288.80,110.90 294.90,118.80 298.40,119.10 301.90,123.10 307.10,129.30 308.90,132.80 310.60,140.70 312.40,143.30 314.10,143.30 316.80,149.40 320.30,156.40 322.50,159.50 325.70,161.60 328.90,167.50 332.10,175.50 335.30,183.00 338.00,188.30 340.10,188.30 341.20,184.00 341.70,174.40 342.80,170.20 344.90,173.40 346.90,184.50 347.50,190.50 348.50,194.50 350.50,188.50 351.50,192.00 353.50,200.50 355.50,191.00 357.50,196.50 359.00,202.50 361.50,209.50 363.50,206.00 366.00,209.50 369.00,206.00 371.50,216.00 374.50,203.50 377.00,209.50 379.50,212.00 382.50,212.00 384.50,217.50 387.50,200.00 390.00,213.50 392.50,209.00 395.50,215.50 400.50,206.00 403.50,219.00 405.50,209.00 408.50,212.50 411.50,209.00 417.00,222.00 421.50,212.00 425.00,218.50 429.20,224.30 431.50,218.30 432.60,221.50 434.70,229.50 437.20,227.30 439.50,233.50 443.80,229.50 445.40,227.80 447.00,218.80 449.10,220.40 450.70,216.70 453.40,211.90 455.50,221.50 457.10,212.40 458.70,208.70 460.30,221.00 463.50,227.50 466.50,224.20 467.80,210.80 469.40,211.90 470.50,221.50 471.50,227.50 474.20,221.20 476.60,227.50 480.00,224.50 483.00,223.00 486.50,217.80 488.60,220.40 489.90,230.00 491.80,223.00 495.00,211.90 496.60,222.60 497.40,228.00 500.30,233.50 504.50,222.00 507.75,221.00 509.80,227.90 512.60,231.30 514.60,240.30 516.70,253.30 518.80,246.50 520.10,237.50 521.20,227.20 522.90,229.30 525.00,225.80 526.30,223.80 528.10,230.60 529.50,236.80 530.40,218.30 531.80,212.10 533.20,217.60 536.60,230.60 539.10,229.90 542.80,234.10 546.30,238.90 547.60,242.30 549.30,232.00 551.10,224.40 554.50,228.60 558.60,232.70 562.80,243.00 563.90,245.80 565.50,230.60 568.30,241.60 571.30,230.60 573.80,241.60 576.30,230.60 579.00,241.60 581.30,233.40 583.70,242.50 586.70,226.70 588.20,235.00 589.70,245.50 592.00,245.50 594.70,230.50 597.20,235.70 599.50,236.50 602.50,242.50 605.50,247.70 607.70,242.50 610.70,239.20 615.20,239.20 618.70,233.50 620.50,236.50 626.50,230.50 628.70,230.50 631.70,227.50 634.30,230.50 636.70,224.50 640.70,224.50 644.50,218.20 648.20,221.80 650.50,221.20 653.50,216.20 655.30,209.70 657.50,208.60 660.30,200.10 662.80,206.50 665.50,209.50 668.70,209.50 670.30,203.10 671.90,204.90 676.70,209.70 678.60,206.30 681.50,209.70 683.60,203.30 689.50,203.30 692.10,206.30 693.70,206.30 699.60,200.10 702.80,203.50 707.60,200.10 710.80,203.50 712.40,200.30 718.30,200.30 720.40,197.40 723.60,197.40 725.70,194.50 728.90,194.50 732.10,191.60 734.30,191.00 739.60,185.20 744.90,185.30 746.50,182.40 749.20,185.30 752.40,182.40 754.00,185.30 763.10,185.30 765.20,182.40 767.30,185.30 770.50,182.10 783.30,182.10 786.50,185.30 794.00,185.30 796.70,188.50 799.30,185.30 802.50,188.50 807.90,188.50 809.50,185.30 812.70,188.50 823.90,188.50" fill="none" stroke="#9900cc" stroke-width="1"/>
<polyline points="70.00,108.50 77.50,108.50 83.75,102.50 88.75,99.25 103.75,99.25 106.00,102.50 117.50,102.50 126.00,93.00 130.00,96.50 132.50,93.50 140.00,93.50 143.75,90.50 161.00,90.50 169.00,98.50 172.50,99.25 174.50,96.50 177.50,99.25 181.00,99.50 182.50,102.50 204.00,102.50 207.00,98.50 210.00,99.25 211.00,102.50 215.00,102.50 216.00,105.00 231.00,105.00 232.50,108.00 236.00,108.50 237.50,111.25 246.00,111.25 249.00,114.25 256.00,106.50 259.00,99.50 261.00,96.50 266.00,96.50 270.00,99.50 272.50,99.50 274.50,105.00 280.00,105.75 282.60,111.00 286.10,108.40 288.80,111.90 294.90,119.80 298.40,120.10 301.90,124.10 307.10,130.30 308.90,133.80 310.60,141.70 312.40,144.30 314.10,144.30 316.80,150.40 320.30,157.40 322.50,160.50 325.70,162.60 328.90,168.50 332.10,176.50 335.30,184.00 338.00,189.30 340.10,189.30 341.20,185.00 341.70,175.40 342.80,171.20 344.90,174.40 346.90,185.50 347.50,191.50 348.50,195.50 350.50,189.50 351.50,193.00 353.50,201.50 355.50,192.00 357.50,197.50 359.00,203.50 361.50,210.50 363.50,207.00 366.00,210.50 369.00,207.00 371.50,217.00 374.50,204.50 377.00,210.50 379.50,213.00 382.50,213.00 384.50,218.50 387.50,201.00 390.00,214.50 392.50,210.00 395.50,216.50 400.50,207.00 403.50,220.00 405.50,210.00 408.50,213.50 411.50,210.00 417.00,223.00 421.50,213.00 425.00,219.50 429.20,225.30 431.50,219.30 432.60,222.50 434.70,230.50 437.20,228.30 439.50,234.50 443.80,230.50 445.40,228.80 447.00,219.80 449.10,221.40 450.70,217.70 453.40,212.90 455.50,222.50 457.10,213.40 458.70,209.70 460.30,222.00 463.50,228.50 466.50,225.20 467.80,211.80 469.40,212.90 470.50,222.50 471.50,228.50 474.20,222.20 476.60,228.50 480.00,225.50 483.00,224.00 486.50,218.80 488.60,221.40 489.90,231.00 491.80,224.00 495.00,212.90 496.60,223.60 497.40,229.00 500.30,234.50 504.50,223.00 507.75,222.00 509.80,228.90 512.60,232.30 514.60,241.30 516.70,254.30 518.80,247.50 520.10,238.50 521.20,228.20 522.90,230.30 525.00,226.80 526.30,224.80 528.10,231.60 529.50,237.80 530.40,219.30 531.80,213.10 533.20,218.60 536.60,231.60 539.10,230.90 542.80,235.10 546.30,239.90 547.60,243.30 549.30,233.00 551.10,225.40 554.50,229.60 558.60,233.70 562.80,244.00 563.90,246.80 565.50,231.60 568.30,242.60 571.30,231.60 573.80,242.60 576.30,231.60 579.00,242.60 581.30,234.40 583.70,243.50 586.70,227.70 588.20,236.00 589.70,246.50 592.00,246.50 594.70,231.50 597.20,236.70 599.50,237.50 602.50,243.50 605.50,248.70 607.70,243.50 610.70,240.20 615.20,240.20 618.70,234.50 620.50,237.50 626.50,231.50 628.70,231.50 631.70,228.50 634.30,231.50 636.70,225.50 640.70,225.50 644.50,219.20 648.20,222.80 650.50,222.20 653.50,217.20 655.30,210.70 657.50,209.60 660.30,201.10 662.80,207.50 665.50,210.50 668.70,210.50 670.30,204.10 671.90,205.90 676.70,210.70 678.60,207.30 681.50,210.70 683.60,204.30 689.50,204.30 692.10,207.30 693.70,207.30 699.60,201.10 702.80,204.50 707.60,201.10 710.80,204.50 712.40,201.30 718.30,201.30 720.40,198.40 723.60,198.40 725.70,195.50 728.90,195.50 732.10,192.60 734.30,192.00 739.60,186.20 744.90,186.30 746.50,183.40 749.20,186.30 752.40,183.40 754.00,186.30 763.10,186.30 765.20,183.40 767.30,186.30 770.50,183.10 783.30,183.10 786.50,186.30 794.00,186.30 796.70,189.50 799.30,186.30 802.50,189.50 807.90,189.50 809.50,186.30 812.70,189.50 823.90,189.50" fill="none" stroke="#9900cc" stroke-width="1"/>
<polyline points="70.00,231.50 73.50,232.20 75.50,233.50 78.50,236.50 82.00,238.50 91.00,238.50 94.00,239.50 96.50,240.50 99.50,240.80 102.00,241.50 104.50,241.20 106.50,240.20 112.00,240.20 114.50,241.50 117.00,242.50 120.00,242.50 122.50,243.50 127.50,241.00 131.00,243.20 135.00,243.20 138.50,245.20 146.00,245.20 149.00,246.50 161.50,246.50 169.00,239.00 171.50,239.80 174.00,241.50 177.00,242.50 180.00,241.20 183.00,241.20 185.50,242.50 188.00,241.20 190.50,241.50 193.50,243.50 201.00,243.20 204.50,246.00 214.00,246.50 216.00,247.50 230.00,247.50 234.00,248.00 238.00,248.20 241.00,246.80 245.00,244.80 248.50,243.00 251.50,245.00 255.00,248.00 258.50,252.00 262.00,250.80 264.50,249.80 268.00,244.00 271.00,239.50 275.00,234.50 278.00,230.00 280.00,228.20 284.00,226.20 288.00,223.20 290.00,222.10 295.00,219.00 298.75,217.50 303.10,216.50 307.50,211.50 311.25,210.25 315.60,206.75 319.40,205.90 321.90,200.90 326.25,199.60 331.25,197.75 335.00,196.50 337.50,196.25 342.50,190.25 346.25,185.90 348.00,185.20 351.00,184.50 356.00,181.00 359.00,179.00 363.50,179.50 369.00,173.00 371.00,175.00 374.50,175.00 377.50,171.00 381.50,169.00 384.50,171.50 389.00,168.50 392.50,165.00 397.00,167.50 400.00,166.00 402.50,165.00 406.00,166.50 408.00,167.50 416.00,167.50 419.00,164.50 420.00,163.00 422.00,161.20 424.50,162.50 427.50,162.50 429.50,161.00 432.50,161.20 435.00,163.50 439.00,158.50 442.00,155.80 445.50,153.00 450.50,158.00 455.00,155.00 460.00,157.50 463.50,155.20 466.00,155.50 469.00,150.50 474.00,147.00 477.00,150.50 479.50,151.50 481.50,150.20 486.00,150.20 489.00,146.00 492.50,140.20 497.50,146.00 500.00,145.20 505.50,145.20 508.00,141.50 511.00,140.80 513.50,139.00 516.00,140.50 518.50,142.80 523.50,136.20 526.50,136.20 529.50,138.50 536.00,131.50 538.00,131.80 542.00,132.20 544.50,133.00 547.00,132.20 551.50,128.20 555.50,128.20 558.00,125.80 560.00,121.20 563.50,119.00 566.00,120.80 569.00,125.50 571.50,128.50 576.50,123.00 580.00,123.00 583.00,123.00 586.00,121.00 589.50,125.20 592.50,122.00 594.50,125.20 598.00,125.20 600.00,122.50 602.50,122.50 607.00,127.00 610.00,128.50 614.50,131.20 624.00,131.20 626.00,130.20 632.00,136.00 636.00,138.20 640.00,140.00 645.00,140.20 650.00,143.00 654.00,144.20 655.00,145.00 658.00,148.00 661.00,149.80 665.00,153.00 669.00,156.50 673.00,157.20 679.00,159.00 682.00,160.50 687.00,160.50 690.00,161.50 694.00,162.20 700.00,162.20 705.00,163.50 709.00,165.20 714.00,167.00 719.00,169.00 723.00,170.20 726.00,173.20 730.00,175.50 734.30,179.50 738.00,182.30 743.90,184.80 744.90,185.90 765.20,185.90 769.50,186.40 773.70,189.10 781.20,189.40 783.90,191.50 789.70,192.00 791.90,192.60 797.20,192.60 799.30,193.30 805.70,194.10 808.40,195.50 812.10,195.50 815.30,193.00 823.00,193.00" fill="none" stroke="#ff0000" stroke-width="1"/>
<polyline points="70.00,232.50 73.50,233.20 75.50,234.50 78.50,237.50 82.00,239.50 91.00,239.50 94.00,240.50 96.50,241.50 99.50,241.80 102.00,242.50 104.50,242.20 106.50,241.20 112.00,241.20 114.50,242.50 117.00,243.50 120.00,243.50 122.50,244.50 127.50,242.00 131.00,244.20 135.00,244.20 138.50,246.20 146.00,246.20 149.00,247.50 161.50,247.50 169.00,240.00 171.50,240.80 174.00,242.50 177.00,243.50 180.00,242.20 183.00,242.20 185.50,243.50 188.00,242.20 190.50,242.50 193.50,244.50 201.00,244.20 204.50,247.00 214.00,247.50 216.00,248.50 230.00,248.50 234.00,249.00 238.00,249.20 241.00,247.80 245.00,245.80 248.50,244.00 251.50,246.00 255.00,249.00 258.50,253.00 262.00,251.80 264.50,250.80 268.00,245.00 271.00,240.50 275.00,235.50 278.00,231.00 280.00,229.20 284.00,227.20 288.00,224.20 290.00,223.10 295.00,220.00 298.75,218.50 303.10,217.50 307.50,212.50 311.25,211.25 315.60,207.75 319.40,206.90 321.90,201.90 326.25,200.60 331.25,198.75 335.00,197.50 337.50,197.25 342.50,191.25 346.25,186.90 348.00,186.20 351.00,185.50 356.00,182.00 359.00,180.00 363.50,180.50 369.00,174.00 371.00,176.00 374.50,176.00 377.50,172.00 381.50,170.00 384.50,172.50 389.00,169.50 392.50,166.00 397.00,168.50 400.00,167.00 402.50,166.00 406.00,167.50 408.00,168.50 416.00,168.50 419.00,165.50 420.00,164.00 422.00,162.20 424.50,163.50 427.50,163.50 429.50,162.00 432.50,162.20 435.00,164.50 439.00,159.50 442.00,156.80 445.50,154.00 450.50,159.00 455.00,156.00 460.00,158.50 463.50,156.20 466.00,156.50 469.00,151.50 474.00,148.00 477.00,151.50 479.50,152.50 481.50,151.20 486.00,151.20 489.00,147.00 492.50,141.20 497.50,147.00 500.00,146.20 505.50,146.20 508.00,142.50 511.00,141.80 513.50,140.00 516.00,141.50 518.50,143.80 523.50,137.20 526.50,137.20 529.50,139.50 536.00,132.50 538.00,132.80 542.00,133.20 544.50,134.00 547.00,133.20 551.50,129.20 555.50,129.20 558.00,126.80 560.00,122.20 563.50,120.00 566.00,121.80 569.00,126.50 571.50,129.50 576.50,124.00 580.00,124.00 583.00,124.00 586.00,122.00 589.50,126.20 592.50,123.00 594.50,126.20 598.00,126.20 600.00,123.50 602.50,123.50 607.00,128.00 610.00,129.50 614.50,132.20 624.00,132.20 626.00,131.20 632.00,137.00 636.00,139.20 640.00,141.00 645.00,141.20 650.00,144.00 654.00,145.20 655.00,146.00 658.00,149.00 661.00,150.80 665.00,154.00 669.00,157.50 673.00,158.20 679.00,160.00 682.00,161.50 687.00,161.50 690.00,162.50 694.00,163.20 700.00,163.20 705.00,164.50 709.00,166.20 714.00,168.00 719.00,170.00 723.00,171.20 726.00,174.20 730.00,176.50 734.30,180.50 738.00,183.30 743.90,185.80 744.90,186.90 765.20,186.90 769.50,187.40 773.70,190.10 781.20,190.40 783.90,192.50 789.70,193.00 791.90,193.60 797.20,193.60 799.30,194.30 805.70,195.10 808.40,196.50 812.10,196.50 815.30,194.00 823.00,194.00" fill="none" stroke="#ff0000" stroke-width="1"/>
<polyline points="70.00,233.50 73.50,234.20 75.50,235.50 78.50,238.50 82.00,240.50 91.00,240.50 94.00,241.50 96.50,242.50 99.50,242.80 102.00,243.50 104.50,243.20 106.50,242.20 112.00,242.20 114.50,243.50 117.00,244.50 120.00,244.50 122.50,245.50 127.50,243.00 131.00,245.20 135.00,245.20 138.50,247.20 146.00,247.20 149.00,248.50 161.50,248.50 169.00,241.00 171.50,241.80 174.00,243.50 177.00,244.50 180.00,243.20 183.00,243.20 185.50,244.50 188.00,243.20 190.50,243.50 193.50,245.50 201.00,245.20 204.50,248.00 214.00,248.50 216.00,249.50 230.00,249.50 234.00,250.00 238.00,250.20 241.00,248.80 245.00,246.80 248.50,245.00 251.50,247.00 255.00,250.00 258.50,254.00 262.00,252.80 264.50,251.80 268.00,246.00 271.00,241.50 275.00,236.50 278.00,232.00 280.00,230.20 284.00,228.20 288.00,225.20 290.00,224.10 295.00,221.00 298.75,219.50 303.10,218.50 307.50,213.50 311.25,212.25 315.60,208.75 319.40,207.90 321.90,202.90 326.25,201.60 331.25,199.75 335.00,198.50 337.50,198.25 342.50,192.25 346.25,187.90 348.00,187.20 351.00,186.50 356.00,183.00 359.00,181.00 363.50,181.50 369.00,175.00 371.00,177.00 374.50,177.00 377.50,173.00 381.50,171.00 384.50,173.50 389.00,170.50 392.50,167.00 397.00,169.50 400.00,168.00 402.50,167.00 406.00,168.50 408.00,169.50 416.00,169.50 419.00,166.50 420.00,165.00 422.00,163.20 424.50,164.50 427.50,164.50 429.50,163.00 432.50,163.20 435.00,165.50 439.00,160.50 442.00,157.80 445.50,155.00 450.50,160.00 455.00,157.00 460.00,159.50 463.50,157.20 466.00,157.50 469.00,152.50 474.00,149.00 477.00,152.50 479.50,153.50 481.50,152.20 486.00,152.20 489.00,148.00 492.50,142.20 497.50,148.00 500.00,147.20 505.50,147.20 508.00,143.50 511.00,142.80 513.50,141.00 516.00,142.50 518.50,144.80 523.50,138.20 526.50,138.20 529.50,140.50 536.00,133.50 538.00,133.80 542.00,134.20 544.50,135.00 547.00,134.20 551.50,130.20 555.50,130.20 558.00,127.80 560.00,123.20 563.50,121.00 566.00,122.80 569.00,127.50 571.50,130.50 576.50,125.00 580.00,125.00 583.00,125.00 586.00,123.00 589.50,127.20 592.50,124.00 594.50,127.20 598.00,127.20 600.00,124.50 602.50,124.50 607.00,129.00 610.00,130.50 614.50,133.20 624.00,133.20 626.00,132.20 632.00,138.00 636.00,140.20 640.00,142.00 645.00,142.20 650.00,145.00 654.00,146.20 655.00,147.00 658.00,150.00 661.00,151.80 665.00,155.00 669.00,158.50 673.00,159.20 679.00,161.00 682.00,162.50 687.00,162.50 690.00,163.50 694.00,164.20 700.00,164.20 705.00,165.50 709.00,167.20 714.00,169.00 719.00,171.00 723.00,172.20 726.00,175.20 730.00,177.50 734.30,181.50 738.00,184.30 743.90,186.80 744.90,187.90 765.20,187.90 769.50,188.40 773.70,191.10 781.20,191.40 783.90,193.50 789.70,194.00 791.90,194.60 797.20,194.60 799.30,195.30 805.70,196.10 808.40,197.50 812.10,197.50 815.30,195.00 823.00,195.00" fill="none" stroke="#ff0000" stroke-width="1"/>
<polyline points="70.00,145.40 77.50,145.40 80.10,147.30 102.00,147.30 103.60,148.40 112.70,148.40 113.70,149.40 122.30,149.40 124.90,151.20 133.50,151.20 134.50,152.30 138.80,152.30 139.90,153.40 146.30,153.40 147.90,154.40 151.60,154.40 154.80,157.10 160.00,157.20 163.20,158.40 169.60,158.40 172.30,160.20 175.50,160.20 177.10,161.40 179.70,160.20 185.60,160.20 188.30,162.30 190.40,161.00 192.00,162.30 195.70,162.50 198.90,164.40 202.10,164.40 203.20,165.50 209.60,165.50 211.20,166.40 224.00,166.40 226.70,168.50 243.20,168.50 245.30,169.50 248.00,170.60 250.70,169.20 259.10,169.40 260.70,170.20 264.40,170.20 269.20,173.20 275.60,173.20 277.20,174.20 280.40,174.20 282.00,175.50 293.20,175.50 296.90,178.50 304.40,178.50 306.50,179.20 308.70,179.20 311.90,181.60 314.00,181.60 316.70,179.20 319.90,181.60 360.00,181.30 362.50,183.30 371.00,183.30 375.50,186.30 382.00,186.50 384.50,187.70 390.00,188.50 392.50,190.30 398.00,190.50 402.00,192.00 406.00,192.50 409.00,194.00 412.00,194.50 415.00,195.40 417.10,196.10 421.40,196.40 425.70,199.30 432.60,199.60 434.20,200.20 437.40,200.20 440.60,203.90 445.40,204.40 449.10,206.60 453.40,208.50 457.70,210.80 460.30,209.20 463.50,212.10 468.30,213.20 473.70,215.10 479.00,216.40 487.50,216.40 491.80,218.30 496.10,220.20 500.30,221.30 505.00,221.30 507.75,221.70 511.90,225.10 516.70,229.30 520.10,229.30 524.30,229.90 529.10,230.60 532.50,232.70 538.00,234.10 542.10,235.50 546.30,238.20 552.50,241.00 558.00,242.30 562.80,243.00 569.00,246.50 573.80,247.10 579.30,247.40 584.50,250.70 590.50,251.20 595.00,252.20 600.00,252.20 603.80,252.80 607.00,255.30 609.50,256.00 613.30,256.20 615.80,258.50 618.40,256.30 620.90,258.50 626.60,258.50 628.50,259.50 631.00,258.20 637.30,259.50 641.10,261.70 643.70,259.80 646.80,259.10 650.60,259.10 651.90,260.40 663.30,260.40 665.20,259.10 667.70,260.80 669.60,259.10 672.20,260.40 692.40,260.40 694.30,261.70 696.80,261.70 699.40,263.50 702.50,260.00 705.10,260.00 707.00,261.40 714.00,261.40 720.30,261.25 723.50,263.60 736.40,263.60 739.60,261.25 742.20,261.25 743.80,260.20 746.10,261.50 748.70,260.20 750.60,260.20 752.30,261.60 754.50,259.30 758.30,259.30 760.00,258.00 761.50,259.30 776.40,259.30 778.30,258.00 780.20,259.30 792.50,259.30 793.80,260.60 800.20,260.60 801.50,261.25 807.90,261.25 809.50,263.60 821.50,263.60 823.40,264.50" fill="none" stroke="#339933" stroke-width="1"/>
<polyline points="70.00,146.40 77.50,146.40 80.10,148.30 102.00,148.30 103.60,149.40 112.70,149.40 113.70,150.40 122.30,150.40 124.90,152.20 133.50,152.20 134.50,153.30 138.80,153.30 139.90,154.40 146.30,154.40 147.90,155.40 151.60,155.40 154.80,158.10 160.00,158.20 163.20,159.40 169.60,159.40 172.30,161.20 175.50,161.20 177.10,162.40 179.70,161.20 185.60,161.20 188.30,163.30 190.40,162.00 192.00,163.30 195.70,163.50 198.90,165.40 202.10,165.40 203.20,166.50 209.60,166.50 211.20,167.40 224.00,167.40 226.70,169.50 243.20,169.50 245.30,170.50 248.00,171.60 250.70,170.20 259.10,170.40 260.70,171.20 264.40,171.20 269.20,174.20 275.60,174.20 277.20,175.20 280.40,175.20 282.00,176.50 293.20,176.50 296.90,179.50 304.40,179.50 306.50,180.20 308.70,180.20 311.90,182.60 314.00,182.60 316.70,180.20 319.90,182.60 360.00,182.30 362.50,184.30 371.00,184.30 375.50,187.30 382.00,187.50 384.50,188.70 390.00,189.50 392.50,191.30 398.00,191.50 402.00,193.00 406.00,193.50 409.00,195.00 412.00,195.50 415.00,196.40 417.10,197.10 421.40,197.40 425.70,200.30 432.60,200.60 434.20,201.20 437.40,201.20 440.60,204.90 445.40,205.40 449.10,207.60 453.40,209.50 457.70,211.80 460.30,210.20 463.50,213.10 468.30,214.20 473.70,216.10 479.00,217.40 487.50,217.40 491.80,219.30 496.10,221.20 500.30,222.30 505.00,222.30 507.75,222.70 511.90,226.10 516.70,230.30 520.10,230.30 524.30,230.90 529.10,231.60 532.50,233.70 538.00,235.10 542.10,236.50 546.30,239.20 552.50,242.00 558.00,243.30 562.80,244.00 569.00,247.50 573.80,248.10 579.30,248.40 584.50,251.70 590.50,252.20 595.00,253.20 600.00,253.20 603.80,253.80 607.00,256.30 609.50,257.00 613.30,257.20 615.80,259.50 618.40,257.30 620.90,259.50 626.60,259.50 628.50,260.50 631.00,259.20 637.30,260.50 641.10,262.70 643.70,260.80 646.80,260.10 650.60,260.10 651.90,261.40 663.30,261.40 665.20,260.10 667.70,261.80 669.60,260.10 672.20,261.40 692.40,261.40 694.30,262.70 696.80,262.70 699.40,264.50 702.50,261.00 705.10,261.00 707.00,262.40 714.00,262.40 720.30,262.25 723.50,264.60 736.40,264.60 739.60,262.25 742.20,262.25 743.80,261.20 746.10,262.50 748.70,261.20 750.60,261.20 752.30,262.60 754.50,260.30 758.30,260.30 760.00,259.00 761.50,260.30 776.40,260.30 778.30,259.00 780.20,260.30 792.50,260.30 793.80,261.60 800.20,261.60 801.50,262.25 807.90,262.25 809.50,264.60 821.50,264.60 823.40,265.50" fill="none" stroke="#339933" stroke-width="1"/>
<polyline points="70.00,365.50 274.00,365.50 277.50,340.50 298.50,340.50 300.60,320.50 306.40,320.50 308.70,340.50 314.70,295.50 319.40,275.50 322.00,295.50 329.10,295.50 333.00,275.50 337.00,275.50 344.90,340.50 348.80,320.50 352.70,320.50 356.70,340.50 363.80,295.50 369.80,340.50 373.00,320.50 375.00,320.50 377.70,340.50 381.60,340.50 385.50,295.50 387.40,295.50 391.30,340.50 397.40,295.50 401.30,320.50 402.60,320.50 411.50,250.50 418.40,295.50 422.30,320.50 426.20,275.50 434.10,275.50 439.40,340.50 447.60,340.50 450.40,295.50 453.60,320.50 459.00,295.50 460.00,295.50 463.00,320.50 466.00,320.50 469.00,340.50 474.00,340.50 479.40,295.50 481.00,320.50 487.00,320.50 490.00,340.50 492.40,340.50 497.40,295.50 500.00,320.50 505.00,320.50 509.00,340.50 514.00,340.50 518.60,275.50 520.00,295.50 523.80,340.50 526.40,320.50 531.80,320.50 535.70,340.50 539.70,320.50 542.30,320.50 544.90,340.50 547.60,320.50 552.80,365.50 555.40,340.50 560.70,340.50 563.30,365.50 565.90,340.50 573.80,340.50 576.40,365.50 579.10,340.50 581.70,340.50 585.60,365.50 586.90,365.50 590.90,320.50 593.00,320.50 594.80,340.50 605.30,340.50 607.90,320.50 613.20,320.50 616.60,340.50 619.70,320.50 623.70,340.50 628.10,340.50 631.50,320.50 639.40,320.50 642.00,340.50 649.90,340.50 652.50,320.50 657.80,320.50 661.70,340.50 665.70,320.50 697.20,320.50 699.80,340.50 724.70,340.50 728.70,320.50 732.60,340.50 736.50,365.50 739.20,365.50 741.80,340.50 746.50,340.50 749.50,320.50 752.50,320.50 755.50,295.50 770.50,295.50 773.50,320.50 781.00,320.50 784.00,340.50 791.50,340.50 794.50,320.50 796.00,340.50 802.00,340.50 805.00,320.50 815.60,320.50 818.60,340.50 820.00,340.50 823.00,320.50" fill="none" stroke="#000" stroke-width="1"/>
<polyline points="70.00,366.50 274.00,366.50 277.50,341.50 298.50,341.50 300.60,321.50 306.40,321.50 308.70,341.50 314.70,296.50 319.40,276.50 322.00,296.50 329.10,296.50 333.00,276.50 337.00,276.50 344.90,341.50 348.80,321.50 352.70,321.50 356.70,341.50 363.80,296.50 369.80,341.50 373.00,321.50 375.00,321.50 377.70,341.50 381.60,341.50 385.50,296.50 387.40,296.50 391.30,341.50 397.40,296.50 401.30,321.50 402.60,321.50 411.50,251.50 418.40,296.50 422.30,321.50 426.20,276.50 434.10,276.50 439.40,341.50 447.60,341.50 450.40,296.50 453.60,321.50 459.00,296.50 460.00,296.50 463.00,321.50 466.00,321.50 469.00,341.50 474.00,341.50 479.40,296.50 481.00,321.50 487.00,321.50 490.00,341.50 492.40,341.50 497.40,296.50 500.00,321.50 505.00,321.50 509.00,341.50 514.00,341.50 518.60,276.50 520.00,296.50 523.80,341.50 526.40,321.50 531.80,321.50 535.70,341.50 539.70,321.50 542.30,321.50 544.90,341.50 547.60,321.50 552.80,366.50 555.40,341.50 560.70,341.50 563.30,366.50 565.90,341.50 573.80,341.50 576.40,366.50 579.10,341.50 581.70,341.50 585.60,366.50 586.90,366.50 590.90,321.50 593.00,321.50 594.80,341.50 605.30,341.50 607.90,321.50 613.20,321.50 616.60,341.50 619.70,321.50 623.70,341.50 628.10,341.50 631.50,321.50 639.40,321.50 642.00,341.50 649.90,341.50 652.50,321.50 657.80,321.50 661.70,341.50 665.70,321.50 697.20,321.50 699.80,341.50 724.70,341.50 728.70,321.50 732.60,341.50 736.50,366.50 739.20,366.50 741.80,341.50 746.50,341.50 749.50,321.50 752.50,321.50 755.50,296.50 770.50,296.50 773.50,321.50 781.00,321.50 784.00,341.50 791.50,341.50 794.50,321.50 796.00,341.50 802.00,341.50 805.00,321.50 815.60,321.50 818.60,341.50 820.00,341.50 823.00,321.50" fill="none" stroke="#000" stroke-width="1"/>
</g>
<circle cx="232.5" cy="360.2" r="4" fill="#fff" stroke="#000" stroke-width="1" shape-rendering="crispEdges"/>
<ellipse cx="232.5" cy="360.2" rx="2.9" ry="3.4" fill="#ffff00" shape-rendering="crispEdges"/>
<circle cx="739.5" cy="360.2" r="4" fill="#fff" stroke="#000" stroke-width="1" shape-rendering="crispEdges"/>
<ellipse cx="739.5" cy="360.2" rx="2.9" ry="3.4" fill="#ffff00" shape-rendering="crispEdges"/>
<circle cx="549.7" cy="360.7" r="4" fill="#000" shape-rendering="crispEdges"/>
<circle cx="6.5" cy="360.7" r="4" fill="#000" shape-rendering="crispEdges"/>
<line x1="0" y1="365" x2="3" y2="362" stroke="#000" stroke-width="1"/>
<polyline points="553.5,356.5 555,354.5 556.5,354.5 558,356.5" fill="none" stroke="#000" stroke-width="1" shape-rendering="crispEdges"/>
</svg>
</body></html>
